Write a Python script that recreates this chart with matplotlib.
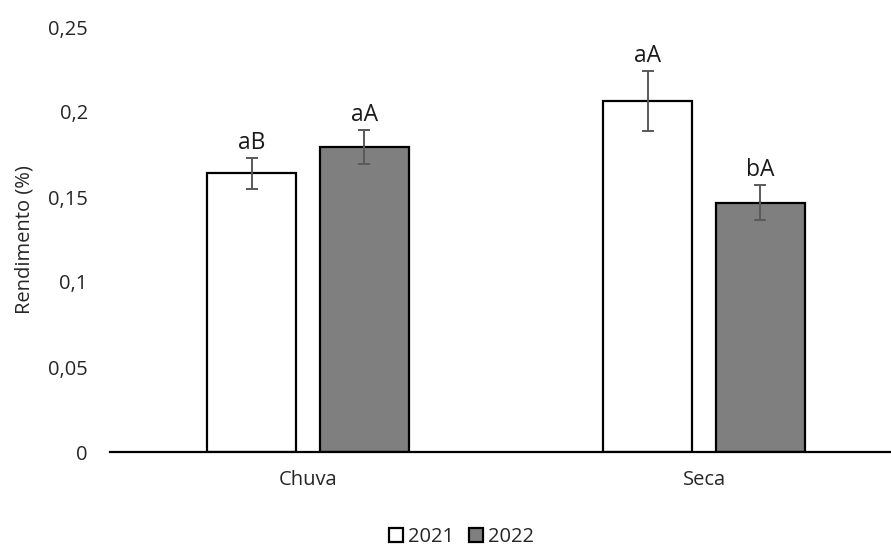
import matplotlib
matplotlib.use('Agg')
import matplotlib.pyplot as plt
import numpy as np
from matplotlib.ticker import FuncFormatter

plt.rcParams['font.family'] = ['Open Sans', 'DejaVu Sans']

categories = ['Chuva', 'Seca']
years = ['2021', '2022']
means_2021 = [0.164, 0.2065]
means_2022 = [0.1795, 0.1467]
err_2021 = [0.009, 0.0178]
err_2022 = [0.0098, 0.0102]
letters_2021 = ['aB', 'aA']
letters_2022 = ['aA', 'bA']

fig = plt.figure(figsize=(8.91, 5.47), dpi=100)
ax = fig.add_axes([110 / 891, 95 / 547, 781 / 891, 425 / 547])

x = np.arange(len(categories))
w = 0.225
off = 0.142
ecol = '#595959'
tcol = '#262626'

series = [
    (means_2021, err_2021, letters_2021, 'white', -off),
    (means_2022, err_2022, letters_2022, '#7f7f7f', off),
]
for (vals, errs, labs, fc, dx), yr in zip(series, years):
    ax.bar(x + dx, vals, width=w, color=fc, edgecolor='black', linewidth=1.6,
           label=yr, zorder=2)
    ax.errorbar(x + dx, vals, yerr=errs, fmt='none', ecolor=ecol, elinewidth=1.4,
                capsize=4.5, capthick=1.4, zorder=3)
    for xi, v, e, t in zip(x + dx, vals, errs, labs):
        ax.annotate(t, (xi, v + e), xytext=(0, 2), textcoords='offset points',
                    ha='center', va='bottom', fontsize=16.5, color='#1a1a1a')

ax.set_xlim(-0.5, 1.472)
ax.set_ylim(0, 0.25)
ax.set_yticks([0, 0.05, 0.1, 0.15, 0.2, 0.25])
ax.yaxis.set_major_formatter(FuncFormatter(lambda v, p: ('%g' % round(v, 2)).replace('.', ',')))
ax.set_xticks(x)
ax.set_xticklabels(categories)
ax.tick_params(axis='both', length=0, labelsize=14.5, colors=tcol)
ax.tick_params(axis='y', pad=16)
ax.tick_params(axis='x', pad=13)
for s in ['top', 'right', 'left']:
    ax.spines[s].set_visible(False)
ax.spines['bottom'].set_linewidth(1.6)
ax.set_ylabel('Rendimento (%)', fontsize=14.5, color=tcol, labelpad=10)

ax.legend(loc='center', bbox_to_anchor=(0.45, -0.2), ncol=2, frameon=False,
          fontsize=14.5, handlelength=0.7, handleheight=0.7, handletextpad=0.25,
          columnspacing=0.75)
for t in ax.get_legend().get_texts():
    t.set_color(tcol)

fig.savefig('out.png', dpi=100)
